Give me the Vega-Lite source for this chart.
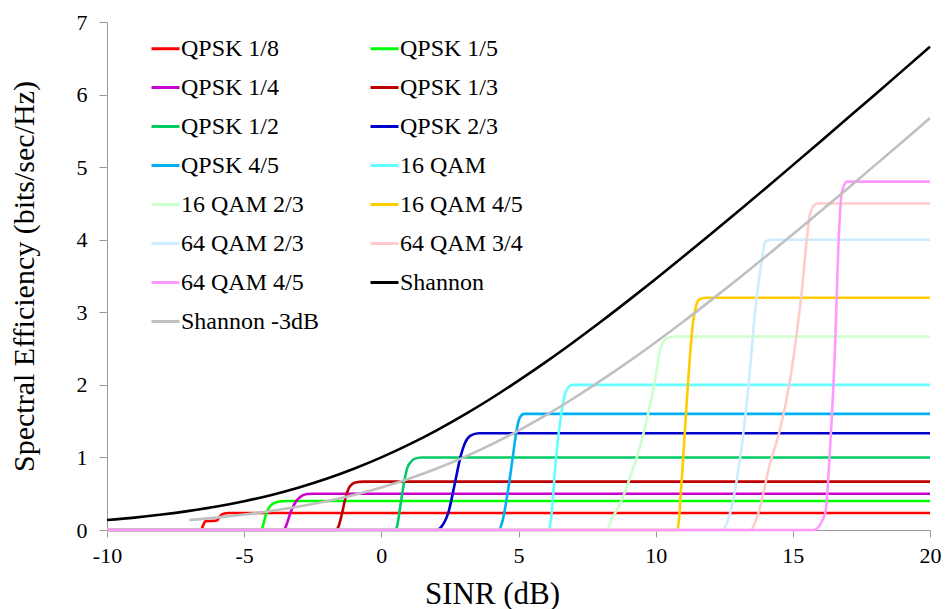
{
  "$schema": "https://vega.github.io/schema/vega-lite/v6.json",
  "autosize": "none",
  "width": 823,
  "height": 508,
  "padding": {"left": 107, "top": 22, "right": 17, "bottom": 79},
  "background": "white",
  "config": {
    "view": {"stroke": null},
    "font": "'Liberation Serif', 'Times New Roman', Times, serif"
  },
  "data": {
    "values": [
      {"series":"QPSK 1/8","snr":-10,"se":0},{"series":"QPSK 1/8","snr":-6.57,"se":0},{"series":"QPSK 1/8","snr":-6.5,"se":0.06},{"series":"QPSK 1/8","snr":-6.42,"se":0.12},{"series":"QPSK 1/8","snr":-6.2,"se":0.125},{"series":"QPSK 1/8","snr":-6.0,"se":0.13},{"series":"QPSK 1/8","snr":-5.9,"se":0.18},{"series":"QPSK 1/8","snr":-5.78,"se":0.22},{"series":"QPSK 1/8","snr":-5.56,"se":0.235},{"series":"QPSK 1/8","snr":20,"se":0.235},
      {"series":"QPSK 1/5","snr":-10,"se":0},{"series":"QPSK 1/5","snr":-4.37,"se":0},{"series":"QPSK 1/5","snr":-4.3,"se":0.08},{"series":"QPSK 1/5","snr":-4.2,"se":0.22},{"series":"QPSK 1/5","snr":-4.05,"se":0.33},{"series":"QPSK 1/5","snr":-3.85,"se":0.38},{"series":"QPSK 1/5","snr":-3.6,"se":0.397},{"series":"QPSK 1/5","snr":-3.44,"se":0.4},{"series":"QPSK 1/5","snr":20,"se":0.4},
      {"series":"QPSK 1/4","snr":-10,"se":0},{"series":"QPSK 1/4","snr":-3.56,"se":0},{"series":"QPSK 1/4","snr":-3.45,"se":0.08},{"series":"QPSK 1/4","snr":-3.3,"se":0.25},{"series":"QPSK 1/4","snr":-3.1,"se":0.4},{"series":"QPSK 1/4","snr":-2.9,"se":0.47},{"series":"QPSK 1/4","snr":-2.7,"se":0.495},{"series":"QPSK 1/4","snr":-2.47,"se":0.5},{"series":"QPSK 1/4","snr":20,"se":0.5},
      {"series":"QPSK 1/3","snr":-10,"se":0},{"series":"QPSK 1/3","snr":-1.68,"se":0},{"series":"QPSK 1/3","snr":-1.55,"se":0.06},{"series":"QPSK 1/3","snr":-1.45,"se":0.2},{"series":"QPSK 1/3","snr":-1.3,"se":0.45},{"series":"QPSK 1/3","snr":-1.15,"se":0.6},{"series":"QPSK 1/3","snr":-0.95,"se":0.655},{"series":"QPSK 1/3","snr":-0.64,"se":0.667},{"series":"QPSK 1/3","snr":20,"se":0.667},
      {"series":"QPSK 1/2","snr":-10,"se":0},{"series":"QPSK 1/2","snr":0.51,"se":0},{"series":"QPSK 1/2","snr":0.58,"se":0.06},{"series":"QPSK 1/2","snr":0.68,"se":0.3},{"series":"QPSK 1/2","snr":0.84,"se":0.68},{"series":"QPSK 1/2","snr":0.95,"se":0.86},{"series":"QPSK 1/2","snr":1.06,"se":0.93},{"series":"QPSK 1/2","snr":1.2,"se":0.98},{"series":"QPSK 1/2","snr":1.48,"se":1},{"series":"QPSK 1/2","snr":20,"se":1},
      {"series":"QPSK 2/3","snr":-10,"se":0},{"series":"QPSK 2/3","snr":2.03,"se":0},{"series":"QPSK 2/3","snr":2.2,"se":0.05},{"series":"QPSK 2/3","snr":2.45,"se":0.25},{"series":"QPSK 2/3","snr":2.7,"se":0.68},{"series":"QPSK 2/3","snr":2.88,"se":1.0},{"series":"QPSK 2/3","snr":3.05,"se":1.2},{"series":"QPSK 2/3","snr":3.25,"se":1.3},{"series":"QPSK 2/3","snr":3.55,"se":1.333},{"series":"QPSK 2/3","snr":20,"se":1.333},
      {"series":"QPSK 4/5","snr":-10,"se":0},{"series":"QPSK 4/5","snr":4.28,"se":0},{"series":"QPSK 4/5","snr":4.4,"se":0.1},{"series":"QPSK 4/5","snr":4.6,"se":0.5},{"series":"QPSK 4/5","snr":4.79,"se":1.0},{"series":"QPSK 4/5","snr":4.92,"se":1.35},{"series":"QPSK 4/5","snr":5.05,"se":1.55},{"series":"QPSK 4/5","snr":5.2,"se":1.6},{"series":"QPSK 4/5","snr":20,"se":1.6},
      {"series":"16 QAM","snr":-10,"se":0},{"series":"16 QAM","snr":6.1,"se":0},{"series":"16 QAM","snr":6.2,"se":0.2},{"series":"16 QAM","snr":6.37,"se":1.0},{"series":"16 QAM","snr":6.56,"se":1.6},{"series":"16 QAM","snr":6.7,"se":1.88},{"series":"16 QAM","snr":6.82,"se":1.97},{"series":"16 QAM","snr":6.97,"se":2.0},{"series":"16 QAM","snr":20,"se":2.0},
      {"series":"16 QAM 2/3","snr":-10,"se":0},{"series":"16 QAM 2/3","snr":8.2,"se":0},{"series":"16 QAM 2/3","snr":8.4,"se":0.15},{"series":"16 QAM 2/3","snr":8.76,"se":0.41},{"series":"16 QAM 2/3","snr":9.07,"se":0.73},{"series":"16 QAM 2/3","snr":9.43,"se":1.15},{"series":"16 QAM 2/3","snr":9.73,"se":1.61},{"series":"16 QAM 2/3","snr":9.98,"se":2.07},{"series":"16 QAM 2/3","snr":10.16,"se":2.48},{"series":"16 QAM 2/3","snr":10.4,"se":2.64},{"series":"16 QAM 2/3","snr":10.7,"se":2.667},{"series":"16 QAM 2/3","snr":20,"se":2.667},
      {"series":"16 QAM 4/5","snr":-10,"se":0},{"series":"16 QAM 4/5","snr":10.79,"se":0},{"series":"16 QAM 4/5","snr":10.95,"se":0.69},{"series":"16 QAM 4/5","snr":11.13,"se":1.75},{"series":"16 QAM 4/5","snr":11.37,"se":2.89},{"series":"16 QAM 4/5","snr":11.48,"se":3.1},{"series":"16 QAM 4/5","snr":11.6,"se":3.18},{"series":"16 QAM 4/5","snr":11.84,"se":3.2},{"series":"16 QAM 4/5","snr":20,"se":3.2},
      {"series":"64 QAM 2/3","snr":-10,"se":0},{"series":"64 QAM 2/3","snr":12.41,"se":0},{"series":"64 QAM 2/3","snr":12.71,"se":0.23},{"series":"64 QAM 2/3","snr":13.08,"se":1.0},{"series":"64 QAM 2/3","snr":13.38,"se":1.97},{"series":"64 QAM 2/3","snr":13.62,"se":2.99},{"series":"64 QAM 2/3","snr":13.87,"se":3.72},{"series":"64 QAM 2/3","snr":13.99,"se":3.97},{"series":"64 QAM 2/3","snr":14.2,"se":4.0},{"series":"64 QAM 2/3","snr":20,"se":4.0},
      {"series":"64 QAM 3/4","snr":-10,"se":0},{"series":"64 QAM 3/4","snr":13.44,"se":0},{"series":"64 QAM 3/4","snr":13.74,"se":0.23},{"series":"64 QAM 3/4","snr":14.17,"se":0.92},{"series":"64 QAM 3/4","snr":14.53,"se":1.38},{"series":"64 QAM 3/4","snr":14.9,"se":2.07},{"series":"64 QAM 3/4","snr":15.14,"se":2.71},{"series":"64 QAM 3/4","snr":15.33,"se":3.31},{"series":"64 QAM 3/4","snr":15.51,"se":4.0},{"series":"64 QAM 3/4","snr":15.63,"se":4.36},{"series":"64 QAM 3/4","snr":15.87,"se":4.5},{"series":"64 QAM 3/4","snr":20,"se":4.5},
      {"series":"64 QAM 4/5","snr":-10,"se":0},{"series":"64 QAM 4/5","snr":15.75,"se":0},{"series":"64 QAM 4/5","snr":16.18,"se":0.23},{"series":"64 QAM 4/5","snr":16.36,"se":1.15},{"series":"64 QAM 4/5","snr":16.54,"se":2.53},{"series":"64 QAM 4/5","snr":16.66,"se":3.9},{"series":"64 QAM 4/5","snr":16.78,"se":4.64},{"series":"64 QAM 4/5","snr":16.97,"se":4.8},{"series":"64 QAM 4/5","snr":20,"se":4.8},
      {"series":"Shannon","snr":-10,"se":0.1375},{"series":"Shannon","snr":-9,"se":0.1711},{"series":"Shannon","snr":-8,"se":0.2125},{"series":"Shannon","snr":-7,"se":0.2631},{"series":"Shannon","snr":-6,"se":0.3233},{"series":"Shannon","snr":-5,"se":0.3965},{"series":"Shannon","snr":-4,"se":0.4835},{"series":"Shannon","snr":-3,"se":0.5862},{"series":"Shannon","snr":-2,"se":0.7058},{"series":"Shannon","snr":-1,"se":0.8434},{"series":"Shannon","snr":0,"se":1.0},{"series":"Shannon","snr":1,"se":1.1757},{"series":"Shannon","snr":2,"se":1.3701},{"series":"Shannon","snr":3,"se":1.5827},{"series":"Shannon","snr":4,"se":1.8122},{"series":"Shannon","snr":5,"se":2.0575},{"series":"Shannon","snr":6,"se":2.3165},{"series":"Shannon","snr":7,"se":2.588},{"series":"Shannon","snr":8,"se":2.8698},{"series":"Shannon","snr":9,"se":3.1609},{"series":"Shannon","snr":10,"se":3.4594},{"series":"Shannon","snr":11,"se":3.7645},{"series":"Shannon","snr":12,"se":4.0747},{"series":"Shannon","snr":13,"se":4.3892},{"series":"Shannon","snr":14,"se":4.7071},{"series":"Shannon","snr":15,"se":5.0279},{"series":"Shannon","snr":16,"se":5.351},{"series":"Shannon","snr":17,"se":5.6758},{"series":"Shannon","snr":18,"se":6.0023},{"series":"Shannon","snr":19,"se":6.3298},{"series":"Shannon","snr":20,"se":6.6582},
      {"series":"Shannon -3dB","snr":-7,"se":0.1375},{"series":"Shannon -3dB","snr":-6,"se":0.1711},{"series":"Shannon -3dB","snr":-5,"se":0.2125},{"series":"Shannon -3dB","snr":-4,"se":0.2631},{"series":"Shannon -3dB","snr":-3,"se":0.3233},{"series":"Shannon -3dB","snr":-2,"se":0.3965},{"series":"Shannon -3dB","snr":-1,"se":0.4835},{"series":"Shannon -3dB","snr":0,"se":0.5862},{"series":"Shannon -3dB","snr":1,"se":0.7058},{"series":"Shannon -3dB","snr":2,"se":0.8434},{"series":"Shannon -3dB","snr":3,"se":1.0},{"series":"Shannon -3dB","snr":4,"se":1.1757},{"series":"Shannon -3dB","snr":5,"se":1.3701},{"series":"Shannon -3dB","snr":6,"se":1.5827},{"series":"Shannon -3dB","snr":7,"se":1.8122},{"series":"Shannon -3dB","snr":8,"se":2.0575},{"series":"Shannon -3dB","snr":9,"se":2.3165},{"series":"Shannon -3dB","snr":10,"se":2.588},{"series":"Shannon -3dB","snr":11,"se":2.8698},{"series":"Shannon -3dB","snr":12,"se":3.1609},{"series":"Shannon -3dB","snr":13,"se":3.4594},{"series":"Shannon -3dB","snr":14,"se":3.7645},{"series":"Shannon -3dB","snr":15,"se":4.0747},{"series":"Shannon -3dB","snr":16,"se":4.3892},{"series":"Shannon -3dB","snr":17,"se":4.7071},{"series":"Shannon -3dB","snr":18,"se":5.0279},{"series":"Shannon -3dB","snr":19,"se":5.351},{"series":"Shannon -3dB","snr":20,"se":5.6758}
    ]
  },
  "mark": {"type": "line", "interpolate": "monotone", "strokeWidth": 2.6, "clip": false},
  "encoding": {
    "x": {
      "field": "snr", "type": "quantitative",
      "scale": {"domain": [-10, 20], "nice": false, "zero": false},
      "axis": {
        "title": "SINR (dB)", "values": [-10, -5, 0, 5, 10, 15, 20],
        "labelExpr": "'' + datum.value",
        "grid": false, "domainColor": "#999999", "tickColor": "#999999", "tickSize": 7,
        "labelFont": "'Liberation Serif', 'Times New Roman', Times, serif", "labelFontSize": 22, "labelColor": "#000000", "labelPadding": 8,
        "labelFlush": false,
        "titleFont": "'Liberation Serif', 'Times New Roman', Times, serif", "titleFontSize": 31, "titleFontWeight": "normal", "titleColor": "#000000",
        "titleX": 385, "titleY": 73, "titleBaseline": "alphabetic", "titleAlign": "center"
      }
    },
    "y": {
      "field": "se", "type": "quantitative",
      "scale": {"domain": [0, 7], "nice": false},
      "axis": {
        "title": "Spectral Efficiency (bits/sec/Hz)", "values": [0, 1, 2, 3, 4, 5, 6, 7],
        "labelExpr": "'' + datum.value",
        "grid": false, "domainColor": "#999999", "tickColor": "#999999", "tickSize": 8,
        "labelFont": "'Liberation Serif', 'Times New Roman', Times, serif", "labelFontSize": 22, "labelColor": "#000000", "labelPadding": 12,
        "labelFlush": false,
        "titleFont": "'Liberation Serif', 'Times New Roman', Times, serif", "titleFontSize": 30, "titleFontWeight": "normal", "titleColor": "#000000",
        "titleX": -74, "titleY": 254, "titleBaseline": "alphabetic", "titleAlign": "center", "titleAngle": -90
      }
    },
    "color": {
      "field": "series", "type": "nominal",
      "scale": {
        "domain": ["QPSK 1/8","QPSK 1/5","QPSK 1/4","QPSK 1/3","QPSK 1/2","QPSK 2/3","QPSK 4/5","16 QAM","16 QAM 2/3","16 QAM 4/5","64 QAM 2/3","64 QAM 3/4","64 QAM 4/5","Shannon","Shannon -3dB"],
        "range": ["#FF0000","#00FF00","#CC00CC","#C00000","#00CC66","#0000CC","#00B0F0","#66FFFF","#CCFFCC","#FFCC00","#CCECFF","#FFCCCC","#FF99FF","#000000","#C0C0C0"]
      },
      "legend": {
        "title": null, "orient": "none", "legendX": 43, "legendY": 11,
        "columns": 2, "columnPadding": 45, "rowPadding": 11,
        "symbolType": "stroke", "symbolSize": 784, "symbolStrokeWidth": 3,
        "labelFont": "'Liberation Serif', 'Times New Roman', Times, serif", "labelFontSize": 24, "labelColor": "#000000", "labelOffset": 0,
        "labelLimit": 300, "direction": "horizontal"
      }
    }
  }
}
